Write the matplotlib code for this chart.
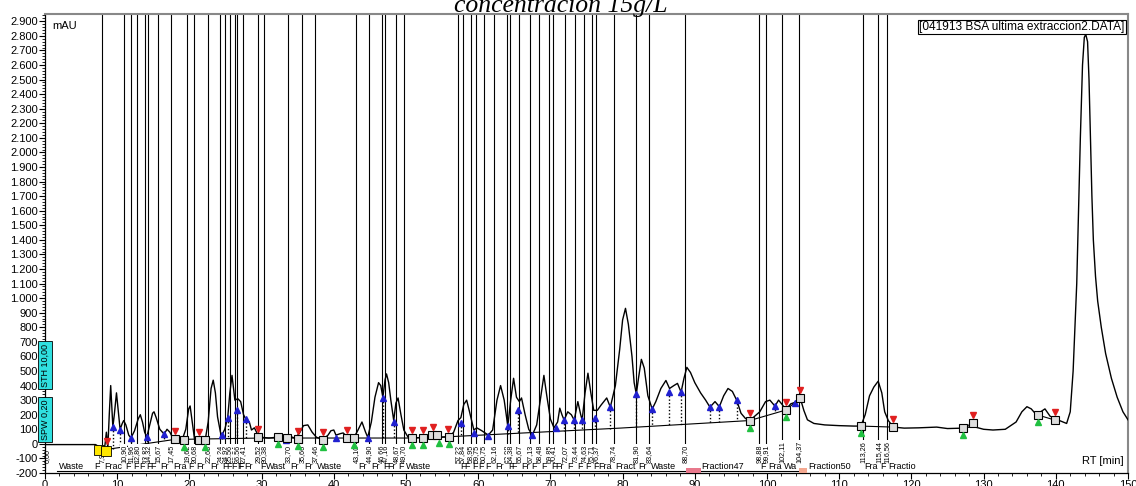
import numpy as np
import matplotlib
matplotlib.use("Agg")
import matplotlib.pyplot as plt
from matplotlib.ticker import MultipleLocator, FuncFormatter

plt.rcParams['font.family'] = ['Liberation Sans', 'DejaVu Sans']

# detector trace (RT min, mAU)
trace_t = [0, 7.0, 7.5, 7.9, 8.3, 8.5, 8.7, 8.9, 9.1, 9.3, 9.4, 9.6, 9.9, 10.1, 10.4, 10.7, 10.9,
           11.2, 11.6, 11.9, 12.4, 12.9, 13.2, 13.5, 13.8, 14.1, 14.5, 14.9, 15.1, 15.4, 15.9,
           16.5, 16.9, 17.3, 17.7, 18.0, 19.0, 19.5, 19.9, 20.1, 20.4, 20.7, 21.5, 22.2, 22.6,
           23.0, 23.3, 23.6, 23.9, 24.3, 24.5, 24.9, 25.3, 25.6, 25.9, 26.3, 26.7, 27.1, 27.5,
           27.8, 28.3, 28.6, 29.0, 29.5, 30.0, 31.0, 32.0, 32.8, 33.4, 34.0, 34.6, 35.2, 35.8,
           36.4, 37.0, 37.6, 38.5, 39.2, 39.6, 40.0, 40.3, 40.9, 41.3, 41.8, 42.6, 43.2, 43.9,
           44.4, 44.7, 45.2, 45.7, 46.2, 46.5, 46.8, 47.1, 47.3, 47.6, 47.9, 48.3, 48.6, 48.9,
           49.3, 49.7, 50.3, 51.5, 53.0, 54.5, 56.0, 56.6, 57.2, 57.6, 58.0, 58.4, 58.8, 59.4,
           59.8, 60.5, 61.4, 62.0, 62.6, 63.1, 63.6, 64.1, 64.5, 64.9, 65.3, 65.7, 66.0, 66.5,
           67.0, 67.5, 68.1, 68.6, 69.1, 69.5, 70.0, 70.5, 71.0, 71.3, 71.6, 71.9, 72.4, 72.9,
           73.3, 73.8, 74.2, 74.4, 74.8, 75.2, 75.6, 76.0, 76.5, 77.0, 77.8, 78.3, 79.0, 79.6,
           80.0, 80.4, 80.8, 81.3, 81.6, 81.9, 82.2, 82.6, 83.0, 83.5, 84.1, 84.6, 85.3, 86.0,
           86.5, 87.1, 87.6, 88.1, 88.5, 88.9, 89.4, 90.0, 90.8, 91.5, 92.1, 92.8, 93.4, 94.0,
           94.6, 95.2, 95.8, 96.4, 97.0, 97.6, 98.3, 99.0, 99.8, 100.4, 101.1, 101.6, 102.1,
           102.6, 103.3, 103.9, 104.6, 105.1, 105.6, 106.5, 108.0, 110.0, 112.0, 113.0, 113.6,
           114.2, 114.8, 115.4, 115.9, 116.3, 116.8, 117.5, 119.0, 121.0, 123.5, 125.0, 127.2,
           128.5, 130.0, 131.3, 133.0, 134.5, 135.3, 136.0, 136.6, 137.3, 138.5, 139.2, 140.5,
           141.5, 142.0, 142.4, 142.7, 142.9, 143.1, 143.4, 143.7, 143.95, 144.15, 144.4, 144.6,
           144.8, 145.0, 145.2, 145.5, 145.8, 146.3, 146.9, 147.7, 148.5, 149.3, 150.0]
trace_v = [-5, -5, -20, -45, -10, 80, -30, 200, 400, 200, 115, 200, 350, 250, 100, 140, 160,
           130, 60, 40, 90, 170, 200, 150, 80, 47, 130, 210, 220, 180, 100,
           67, 100, 80, 40, 30, 28, 100, 240, 260, 150, 35, 40, 30, 150,
           380, 437, 350, 185, 80, 60, 100, 177, 350, 470, 300, 310, 290, 200,
           170, 150, 95, 110, 60, 45, 40, 45, 50, 35, 50, 40, 70, 125,
           130, 80, 45, 30, 60, 90, 95, 60, 70, 75, 50, 30, 80, 150,
           80, 45, 150, 320, 420, 400, 320, 440, 480, 420, 300, 160, 280, 315,
           200, 95, 45, 42, 45, 45, 48, 80, 160, 180, 270, 300, 220, 95,
           110, 90, 60, 95, 300, 400, 300, 122, 300, 450, 320, 290, 315, 200,
           100, 60, 130, 300, 470, 330, 170, 110, 150, 245, 200, 163, 220, 200,
           163, 290, 200, 163, 350, 485, 350, 230, 230, 265, 315, 252, 400, 650,
           850, 930, 820, 600, 420, 342, 450, 580, 520, 330, 239, 290, 380, 435,
           380, 400, 415, 355, 450, 525, 490, 420, 350, 300, 252, 290, 255, 330,
           380, 360, 300, 210, 175, 158, 190, 220, 290, 300, 259, 300, 270,
           235, 275, 285, 315, 230, 165, 140, 130, 125, 122, 122, 200,
           330, 390, 430, 350, 220, 160, 115, 108, 110, 115, 105, 108,
           120, 100, 95, 100, 150, 220, 255, 240, 200, 240, 190, 160,
           140, 220, 500, 850, 1100, 1500, 2100, 2600, 2790, 2810, 2760, 2500,
           2100, 1700, 1400, 1150, 980, 800, 620, 450, 320, 220, 165]

# fraction cut times
frac_t = [7.95, 10.90, 11.96, 12.80, 13.82, 14.32, 15.67, 17.45, 19.62, 20.68, 22.63, 24.24,
          24.92, 25.56, 26.34, 26.56, 27.41, 29.52, 30.38, 33.70, 35.66, 37.46, 43.10, 44.90,
          46.66, 47.16, 48.67, 49.70, 57.22, 57.84, 58.95, 59.75, 60.75, 62.16, 63.98, 64.38,
          65.67, 67.13, 68.48, 69.85, 70.41, 72.07, 73.44, 74.63, 75.71, 76.37, 78.74, 81.90,
          83.64, 88.70, 98.88, 99.91, 102.11, 104.37, 113.26, 115.44, 116.56]
waste_starts = [1.7, 30.38, 37.46, 49.70, 83.64, 102.11]

# integration baseline
base_t = [8.3, 17.9, 30.0, 50.8, 56.0, 79.6, 97.6, 102.6, 104.6]
base_v = [-40, 30, 40, 40, 49, 108, 160, 232, 314]
extra_bases = [([113.0, 117.5], [122, 115]), ([127.1, 128.5], [108, 143]),
               ([137.5, 139.9], [198, 163])]

# peak split points
split_t = [9.4, 10.4, 11.9, 14.1, 16.5, 24.5, 25.3, 26.6, 27.8, 33.4, 40.3, 44.7, 46.8, 48.3,
           57.6, 59.4, 61.4, 64.1, 65.5, 67.5, 70.8, 71.9, 73.3, 74.4, 76.2, 78.3, 81.9, 84.1,
           86.4, 88.1, 92.1, 93.4, 95.8, 101.1, 103.9]
split_v = [115, 95, 40, 47, 67, 60, 177, 232, 170, 26, 40, 40, 314, 150,
           143, 74, 53, 122, 232, 60, 108, 163, 163, 163, 177, 252, 342, 239,
           355, 355, 252, 252, 300, 259, 280]

# baseline anchor boxes, with start (green) / end (red) flags
box_t = [18.0, 19.25, 21.3, 22.2, 29.5, 32.3, 33.5, 35.0, 38.5, 41.8, 42.8, 50.8, 52.4, 53.6,
         54.3, 56.0, 97.6, 102.6, 104.6, 113.0, 117.5, 127.1, 128.5, 137.5, 139.9]
box_v = [33, 26, 26, 26, 47, 47, 40, 33, 26, 40, 40, 40, 40, 58, 58, 47, 156, 232, 314,
         122, 115, 108, 143, 198, 163]
end_t = [8.6, 18.0, 21.3, 29.5, 35.0, 38.5, 41.8, 50.8, 52.4, 53.8, 55.8, 97.6, 102.6, 104.6,
         117.5, 128.5, 139.9]
end_v = [-35, 33, 26, 47, 33, 26, 40, 40, 40, 58, 47, 156, 232, 314, 115, 143, 163]
start_t = [19.25, 22.2, 32.3, 35.0, 38.5, 42.8, 50.8, 52.4, 54.6, 56.0, 97.6, 102.6, 113.0,
           127.1, 137.5]
start_v = [26, 26, 47, 33, 26, 40, 40, 40, 58, 47, 156, 232, 122, 108, 198]

fig = plt.figure(figsize=(11.36, 4.86), dpi=100)
ax = fig.add_axes([45 / 1136, 13 / 486, 1083 / 1136, 459 / 486])
ax.set_xlim(0, 150)
ax.set_ylim(-200, 2950)
renderer = fig.canvas.get_renderer()

# fraction cut lines and their time labels
for t in frac_t:
    ax.plot([t, t], [-25, 2950], color='black', lw=0.8, zorder=1)
    ax.text(t, -128, f"{t:.2f}".replace('.', ','), rotation=90, ha='center', va='bottom',
            fontsize=5.2, zorder=4, bbox=dict(fc='white', ec='none', pad=0.2))
ax.text(0.35, -128, "0,00", rotation=90, ha='center', va='bottom', fontsize=5.2, zorder=4)

# fraction names along the bottom, cut to the width of their slot
row_t = [1.7, 6.6] + frac_t + [121.0]
num = 0
for i in range(len(row_t) - 1):
    a, b = row_t[i], row_t[i + 1]
    if a in waste_starts:
        name = "Waste"
    else:
        num += 1
        name = f"Fraction{num}"
    x0 = a + 0.25
    if a in (88.70, 104.37):
        w = 2.0 if a == 88.70 else 1.1
        x0 = a + w + 0.2
        ax.add_patch(plt.Rectangle((a + 0.1, -198), w, 30,
                                   fc='#e8788c' if a == 88.70 else '#f4a890', ec='none',
                                   zorder=3))
    txt = ax.text(x0, -152, name, fontsize=6.5, va='center', ha='left', zorder=4)
    avail = (b - x0) * ax.bbox.width / 150
    while len(name) > 1 and txt.get_window_extent(renderer).width > avail:
        name = name[:-1]
        txt.set_text(name)
ax.plot([1.7, 104.4], [-187, -187], color='black', lw=0.8, zorder=2)

# baselines
ax.plot(base_t, base_v, color='black', lw=0.8, zorder=2)
for bt, bv in extra_bases:
    ax.plot(bt, bv, color='black', lw=0.8, zorder=2)

# drop lines from split points to the baseline
for t, v in zip(split_t, split_v):
    if base_t[0] <= t <= base_t[-1]:
        ax.plot([t, t], [v, np.interp(t, base_t, base_v)], color='black', lw=1, ls=(0, (1, 1.5)),
                zorder=2)

ax.plot(trace_t, trace_v, color='black', lw=1.0, zorder=3)

ax.plot(split_t, split_v, ls='none', marker='^', ms=4, color='#2020d0', zorder=5)
ax.plot(box_t, box_v, ls='none', marker='s', ms=6, mfc='#dddddd', mec='black', mew=0.8,
        zorder=5)
ax.plot(end_t, np.array(end_v) + 55, ls='none', marker='v', ms=4.5, color='#e02020', zorder=5)
ax.plot(start_t, np.array(start_v) - 50, ls='none', marker='^', ms=4.5, color='#20c040',
        zorder=5)
ax.plot([7.5, 8.4], [-45, -50], ls='none', marker='s', ms=7, mfc='#ffe600', mec='black',
        mew=0.6, zorder=5)

# method parameter tags
ax.text(0, 541, "STH 10,00", rotation=90, ha='center', va='center', fontsize=6.5,
        clip_on=False, zorder=6,
        bbox=dict(boxstyle='square,pad=0.25', fc='#30e0e0', ec='black', lw=0.6))
ax.text(0, 165, "SPW 0,20", rotation=90, ha='center', va='center', fontsize=6.5,
        clip_on=False, zorder=6,
        bbox=dict(boxstyle='square,pad=0.25', fc='#30e0e0', ec='black', lw=0.6))

ax.text(0.007, 0.985, "mAU", transform=ax.transAxes, fontsize=8, ha='left', va='top')
ax.text(0.997, 0.985, "[041913 BSA ultima extraccion2.DATA]", transform=ax.transAxes,
        fontsize=8.6, ha='right', va='top',
        bbox=dict(boxstyle='square,pad=0.1', fc='white', ec='black', lw=0.8))
ax.text(0.996, 0.015, "RT [min]", transform=ax.transAxes, fontsize=8, ha='right',
        va='bottom')

ax.xaxis.set_major_locator(MultipleLocator(10))
ax.xaxis.set_minor_locator(MultipleLocator(2))
ax.yaxis.set_major_locator(MultipleLocator(100))
ax.yaxis.set_minor_locator(MultipleLocator(20))
ax.yaxis.set_major_formatter(FuncFormatter(lambda v, p: f"{v:,.0f}".replace(',', '.')))
ax.tick_params(axis='both', which='major', length=4, width=0.8, labelsize=8, pad=1)
ax.tick_params(axis='both', which='minor', length=2, width=0.6)
for side in ('top', 'right'):
    ax.spines[side].set_color('#888888')
    ax.spines[side].set_linewidth(1.5)
for side in ('left', 'bottom'):
    ax.spines[side].set_linewidth(0.9)

fig.text(561 / 1136, 1 - 12 / 486, "concentración 15g/L", ha='center', va='baseline',
         fontsize=18.5, style='italic', family='Liberation Serif')

fig.savefig("out.png", dpi=100)
